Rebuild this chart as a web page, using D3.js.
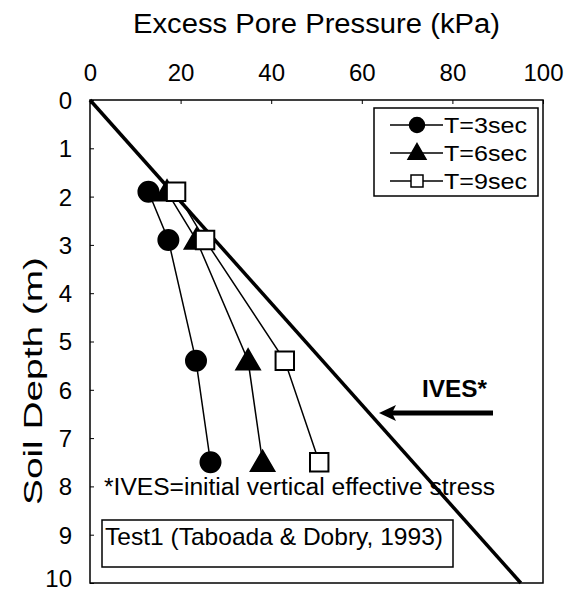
<!DOCTYPE html>
<html><head><meta charset="utf-8">
<script src="https://cdn.jsdelivr.net/npm/d3@7"></script>
<style>body{margin:0;background:#fff}svg{display:block;font-family:"Liberation Sans",Arial,sans-serif}</style>
</head><body><svg id="c" width="566" height="592"></svg>
<script>
const depths = [1.9, 2.9, 5.4, 7.5];
const seriesNames = ["T=3sec", "T=6sec", "T=9sec"];
const t3 = [12.9, 17.3, 23.4, 26.6];
const t6 = [17.0, 23.5, 34.9, 38.1];
const t9 = [19.0, 25.4, 43.0, 50.6];
const ivesDepth = [0, 10];
const ivesPressure = [0, 95.1];
const xTicks = [0, 20, 40, 60, 80, 100];
const yTicks = [0, 1, 2, 3, 4, 5, 6, 7, 8, 9, 10];

const FF = "Liberation Sans, Arial, sans-serif";
const svg = d3.select("#c");
const L = 90, R = 543, T = 100, B = 583;
const x = d3.scaleLinear().domain([0, 100]).range([L, R]);
const y = d3.scaleLinear().domain([0, 10]).range([T, B]);

// frame
svg.append("rect").attr("x", L).attr("y", T).attr("width", R - L).attr("height", B - T)
  .attr("fill", "none").attr("stroke", "#000").attr("stroke-width", 1.5);

// top axis
const xa = svg.append("g").attr("transform", `translate(0,${T})`)
  .call(d3.axisTop(x).tickValues(xTicks).tickSize(-4).tickPadding(19));
xa.select(".domain").remove();
xa.selectAll("text").attr("font-size", 24).attr("font-family", FF).attr("dy", "0");

const ya = svg.append("g").attr("transform", `translate(${L},0)`)
  .call(d3.axisLeft(y).tickValues(yTicks).tickSize(-4).tickPadding(18));
ya.select(".domain").remove();
ya.selectAll("text").attr("font-size", 24).attr("font-family", FF)
  .attr("dy", d => d === 10 ? "0.15em" : "0.35em");

svg.append("text").attr("x", (L + R) / 2).attr("y", 33).attr("text-anchor", "middle")
  .attr("font-size", 27).attr("textLength", 367).attr("lengthAdjust", "spacingAndGlyphs")
  .text("Excess Pore Pressure (kPa)");
svg.append("text").attr("transform", `translate(42,381) rotate(-90)`)
  .attr("text-anchor", "middle").attr("font-size", 25)
  .attr("textLength", 248).attr("lengthAdjust", "spacingAndGlyphs").text("Soil Depth (m)");

// IVES line
svg.append("line").attr("x1", x(ivesPressure[0])).attr("y1", y(ivesDepth[0]))
  .attr("x2", x(ivesPressure[1])).attr("y2", y(ivesDepth[1]))
  .attr("stroke", "#000").attr("stroke-width", 3.5);

const line = d3.line().x(d => x(d[0])).y(d => y(d[1]));
const series = [t3, t6, t9];
const sym = [d3.symbolCircle, d3.symbolTriangle, d3.symbolSquare];
const symSize = [314, 240, 340];
const fills = ["#000", "#000", "#fff"];

series.forEach((s, i) => {
  const pts = s.map((v, j) => [v, depths[j]]);
  svg.append("path").attr("d", line(pts)).attr("fill", "none").attr("stroke", "#000").attr("stroke-width", 1.5);
});
series.forEach((s, i) => {
  s.forEach((v, j) => {
    svg.append("path").attr("d", d3.symbol(sym[i], symSize[i])())
      .attr("transform", `translate(${x(v)},${y(depths[j]) + (i === 1 ? 2 : 0)})`)
      .attr("fill", fills[i]).attr("stroke", "#000").attr("stroke-width", 2);
  });
});

// legend
svg.append("rect").attr("x", 374).attr("y", 108).attr("width", 164).attr("height", 88)
  .attr("fill", "#fff").attr("stroke", "#000").attr("stroke-width", 1.5);
seriesNames.forEach((n, i) => {
  const yy = 125 + i * 28;
  svg.append("line").attr("x1", 390).attr("x2", 443).attr("y1", yy).attr("y2", yy)
    .attr("stroke", "#000").attr("stroke-width", 1.5);
  svg.append("path").attr("d", d3.symbol(sym[i], [176, 140, 144][i])())
    .attr("transform", `translate(417,${yy + (i === 1 ? 1 : 0)})`)
    .attr("fill", fills[i]).attr("stroke", "#000").attr("stroke-width", 1.5);
  svg.append("text").attr("x", 444).attr("y", yy + 8).attr("font-size", 22)
    .attr("textLength", 83).attr("lengthAdjust", "spacingAndGlyphs").text(n);
});

// IVES annotation
svg.append("text").attr("x", 422).attr("y", 397)
  .attr("font-size", 23).attr("font-weight", "bold")
  .attr("textLength", 65).attr("lengthAdjust", "spacingAndGlyphs").text("IVES*");
svg.append("line").attr("x1", 493).attr("x2", 392).attr("y1", 413).attr("y2", 413)
  .attr("stroke", "#000").attr("stroke-width", 5);
svg.append("path").attr("d", "M379,413 L396,405 L392,413 L396,421 Z").attr("fill", "#000");

svg.append("text").attr("x", 104).attr("y", 495).attr("font-size", 23)
  .attr("textLength", 391).attr("lengthAdjust", "spacingAndGlyphs")
  .text("*IVES=initial vertical effective stress");

svg.append("rect").attr("x", 102).attr("y", 520).attr("width", 351).attr("height", 47)
  .attr("fill", "#fff").attr("stroke", "#000").attr("stroke-width", 1.5);
svg.append("text").attr("x", 105).attr("y", 545).attr("font-size", 24)
  .attr("textLength", 338).attr("lengthAdjust", "spacingAndGlyphs")
  .text("Test1 (Taboada & Dobry, 1993)");
</script></body></html>
